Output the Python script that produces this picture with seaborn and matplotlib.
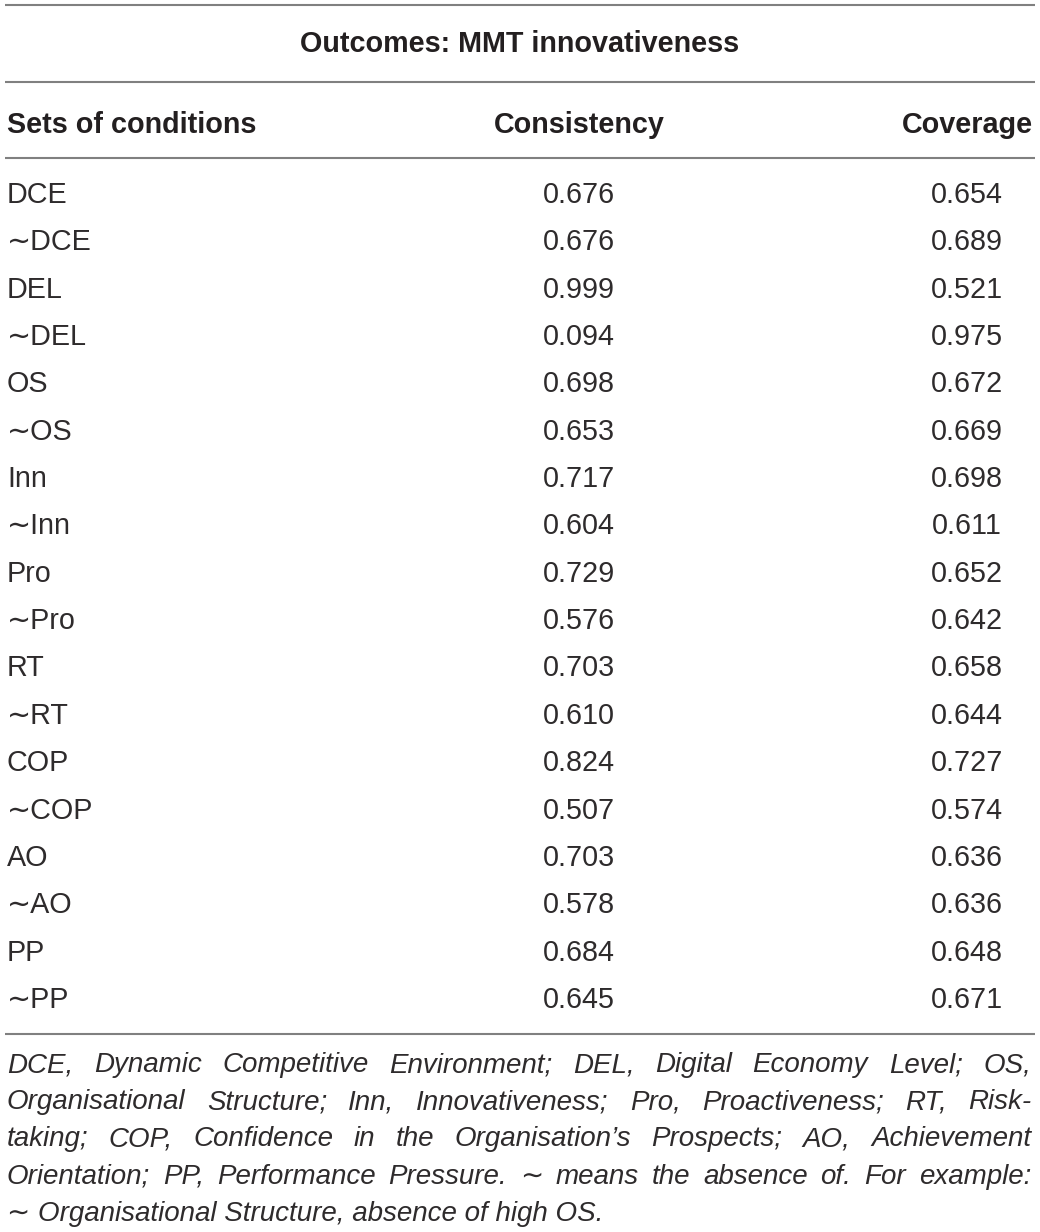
import matplotlib
matplotlib.use("Agg")
import matplotlib.pyplot as plt
import seaborn as sns

# table content
title = "Outcomes: MMT innovativeness"
headers = ["Sets of conditions", "Consistency", "Coverage"]
conditions = ["DCE", "\u223cDCE", "DEL", "\u223cDEL", "OS", "\u223cOS", "Inn", "\u223cInn",
              "Pro", "\u223cPro", "RT", "\u223cRT", "COP", "\u223cCOP", "AO", "\u223cAO",
              "PP", "\u223cPP"]
consistency = [0.676, 0.676, 0.999, 0.094, 0.698, 0.653, 0.717, 0.604, 0.729,
               0.576, 0.703, 0.610, 0.824, 0.507, 0.703, 0.578, 0.684, 0.645]
coverage = [0.654, 0.689, 0.521, 0.975, 0.672, 0.669, 0.698, 0.611, 0.652,
            0.642, 0.658, 0.644, 0.727, 0.574, 0.636, 0.636, 0.648, 0.671]
footnote = [
    "DCE, Dynamic Competitive Environment; DEL, Digital Economy Level; OS,",
    "Organisational Structure; Inn, Innovativeness; Pro, Proactiveness; RT, Risk-",
    "taking; COP, Confidence in the Organisation\u2019s Prospects; AO, Achievement",
    "Orientation; PP, Performance Pressure. \u223c means the absence of. For example:",
    "\u223c Organisational Structure, absence of high OS.",
]

sns.set_theme(style="white")
plt.rcParams["font.family"] = ["Liberation Sans", "DejaVu Sans"]

W, H = 1040, 1232
fig = plt.figure(figsize=(W / 100, H / 100), dpi=100)
ax = fig.add_axes([0, 0, 1, 1])
ax.set_xlim(0, W)
ax.set_ylim(H, 0)
ax.axis("off")

ink = "#231f20"
ink_light = "#2e2b2c"
rule = "#808080"
left, right = 7, 1033
col_x = [left, 579, 967]
fs = 20.7
fs_note = 20.0

# horizontal rules
for y in [5, 82, 158, 1034]:
    ax.plot([left - 2, right + 2], [y, y], color=rule, lw=1.5, solid_capstyle="butt")

ax.text(520, 52, title, ha="center", va="baseline", fontsize=fs, fontweight="bold", color=ink)

ax.text(col_x[0], 133, headers[0], ha="left", va="baseline", fontsize=fs, fontweight="bold", color=ink)
ax.text(col_x[1], 133, headers[1], ha="center", va="baseline", fontsize=fs, fontweight="bold", color=ink)
ax.text(right, 133, headers[2], ha="right", va="baseline", fontsize=fs, fontweight="bold", color=ink)

row0, step = 203, 47.35
for i, (c, a, b) in enumerate(zip(conditions, consistency, coverage)):
    y = row0 + i * step
    ax.text(col_x[0], y, c, ha="left", va="baseline", fontsize=fs, color=ink_light)
    ax.text(col_x[1], y, f"{a:.3f}", ha="center", va="baseline", fontsize=fs, color=ink_light)
    ax.text(col_x[2], y, f"{b:.3f}", ha="center", va="baseline", fontsize=fs, color=ink_light)

# justified italic footnote
renderer = fig.canvas.get_renderer()
note_y0, note_step = 1072, 37.2
for k, line in enumerate(footnote):
    y = note_y0 + k * note_step
    words = line.split(" ")
    if k == len(footnote) - 1:
        ax.text(left, y, line, ha="left", va="baseline", fontsize=fs_note, style="italic", color=ink_light)
        continue
    arts = [ax.text(0, y, w, ha="left", va="baseline", fontsize=fs_note, style="italic", color=ink_light)
            for w in words]
    widths = [t.get_window_extent(renderer).width for t in arts]
    gap = (right - 2 - left - sum(widths)) / (len(words) - 1)
    x = left
    for t, w in zip(arts, widths):
        t.set_x(x)
        x += w + gap

fig.savefig("out.png", dpi=100, facecolor="white")
